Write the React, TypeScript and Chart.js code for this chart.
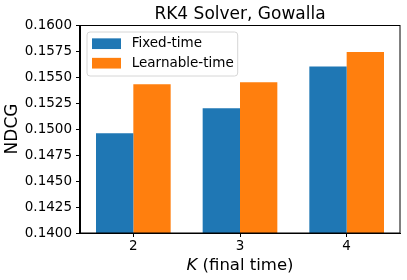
import React, { useEffect, useRef } from "react";
import { Chart, registerables } from "chart.js";

Chart.register(...registerables);

const categories = ["2", "3", "4"];
const fixedTime = [0.1496, 0.152, 0.156];
const learnableTime = [0.1543, 0.1545, 0.1574];
const seriesLabels = ["Fixed-time", "Learnable-time"];
const seriesColors = ["#1f77b4", "#ff7f0e"];
const yTicks = [0.14, 0.1425, 0.145, 0.1475, 0.15, 0.1525, 0.155, 0.1575, 0.16];
const chartTitle = "RK4 Solver, Gowalla";
const yTitle = "NDCG";
const xTitleItalic = "K";
const xTitleRest = " (final time)";

const FONT = "'DejaVu Sans', sans-serif";

const framePlugin = {
  id: "frame",
  afterDatasetsDraw(chart: any) {
    const { ctx, chartArea } = chart;
    ctx.save();
    ctx.strokeStyle = "#000";
    ctx.lineWidth = 1;
    ctx.strokeRect(
      Math.round(chartArea.left) - 0.5,
      Math.round(chartArea.top) + 0.5,
      Math.round(chartArea.right - chartArea.left) + 0.5,
      Math.round(chartArea.bottom - chartArea.top) - 0.5
    );
    ctx.restore();
  },
};

const legendPlugin = {
  id: "innerLegend",
  afterDraw(chart: any) {
    const { ctx, chartArea } = chart;
    const fontSize = 13.5;
    ctx.save();
    ctx.font = `${fontSize}px ${FONT}`;
    const left = chartArea.left + 7;
    const top = chartArea.top + 7;
    const swW = 29;
    const swH = 10.7;
    const swX = left + 5;
    const textX = left + 44.7;
    const rowH = 19.5;
    const firstRow = top + 11.7;
    const labels = chart.data.datasets.map((d: any) => d.label);
    const maxW = Math.max(...labels.map((l: string) => ctx.measureText(l).width));
    const boxW = textX + maxW + 4 - left;
    const boxH = 44;
    const r = 3;
    ctx.beginPath();
    ctx.moveTo(left + r, top);
    ctx.lineTo(left + boxW - r, top);
    ctx.arcTo(left + boxW, top, left + boxW, top + r, r);
    ctx.lineTo(left + boxW, top + boxH - r);
    ctx.arcTo(left + boxW, top + boxH, left + boxW - r, top + boxH, r);
    ctx.lineTo(left + r, top + boxH);
    ctx.arcTo(left, top + boxH, left, top + boxH - r, r);
    ctx.lineTo(left, top + r);
    ctx.arcTo(left, top, left + r, top, r);
    ctx.closePath();
    ctx.fillStyle = "rgba(255,255,255,0.8)";
    ctx.fill();
    ctx.strokeStyle = "#d6d6d6";
    ctx.lineWidth = 1;
    ctx.stroke();
    chart.data.datasets.forEach((d: any, i: number) => {
      const cy = firstRow + i * rowH;
      ctx.fillStyle = d.backgroundColor;
      ctx.fillRect(swX, cy - swH / 2, swW, swH);
      ctx.fillStyle = "#000";
      ctx.textBaseline = "middle";
      ctx.textAlign = "left";
      ctx.fillText(d.label, textX, cy);
    });
    ctx.restore();
  },
};

const xTitlePlugin = {
  id: "xTitle",
  afterDraw(chart: any) {
    const { ctx, chartArea } = chart;
    const size = 16.5;
    ctx.save();
    ctx.fillStyle = "#000";
    ctx.textBaseline = "alphabetic";
    ctx.textAlign = "left";
    ctx.font = `italic ${size}px ${FONT}`;
    const w1 = ctx.measureText(xTitleItalic).width;
    ctx.font = `${size}px ${FONT}`;
    const w2 = ctx.measureText(xTitleRest).width;
    const cx = (chartArea.left + chartArea.right) / 2;
    const x0 = cx - (w1 + w2) / 2;
    const baseline = 269.5;
    ctx.font = `italic ${size}px ${FONT}`;
    ctx.fillText(xTitleItalic, x0, baseline);
    ctx.font = `${size}px ${FONT}`;
    ctx.fillText(xTitleRest, x0 + w1, baseline);
    ctx.restore();
  },
};

export default function App() {
  const ref = useRef<HTMLCanvasElement>(null);
  useEffect(() => {
    if (!ref.current) return;
    const chart = new Chart(ref.current, {
      type: "bar",
      data: {
        labels: categories,
        datasets: [
          {
            label: seriesLabels[0],
            data: fixedTime,
            backgroundColor: seriesColors[0],
            borderWidth: 0,
            categoryPercentage: 0.7,
            barPercentage: 1.0,
          },
          {
            label: seriesLabels[1],
            data: learnableTime,
            backgroundColor: seriesColors[1],
            borderWidth: 0,
            categoryPercentage: 0.7,
            barPercentage: 1.0,
          },
        ],
      },
      options: {
        responsive: false,
        animation: false,
        devicePixelRatio: 1,
        layout: { padding: { left: 0, right: 7, top: 0, bottom: 0 } },
        plugins: {
          legend: { display: false },
          tooltip: { enabled: false },
          title: {
            display: true,
            text: chartTitle,
            fullSize: false,
            color: "#000",
            font: { family: FONT, size: 17, weight: "normal" },
            padding: { top: 4, bottom: 0.6 },
          },
        },
        scales: {
          x: {
            offset: true,
            grid: {
              offset: false,
              drawOnChartArea: false,
              drawTicks: true,
              tickLength: 4,
              color: "#000",
            },
            border: { display: true, color: "#000", width: 1 },
            ticks: {
              color: "#000",
              font: { family: FONT, size: 13.5 },
              padding: 1,
              maxRotation: 0,
            },
            afterFit(scale: any) {
              scale.height = 47;
            },
          },
          y: {
            min: 0.14,
            max: 0.16,
            grid: {
              drawOnChartArea: false,
              drawTicks: true,
              tickLength: 4,
              color: "#000",
            },
            border: { display: true, color: "#000", width: 1 },
            ticks: {
              color: "#000",
              font: { family: FONT, size: 13.5 },
              padding: 4,
              callback: (v: any) => Number(v).toFixed(4),
            },
            afterBuildTicks(scale: any) {
              scale.ticks = yTicks.map((v) => ({ value: v }));
            },
            title: {
              display: true,
              text: yTitle,
              color: "#000",
              font: { family: FONT, size: 17, weight: "normal" },
              padding: { top: 2, bottom: 0 },
            },
            afterFit(scale: any) {
              scale.width = 80;
            },
          },
        },
      },
      plugins: [framePlugin, legendPlugin, xTitlePlugin],
    } as any);
    return () => chart.destroy();
  }, []);
  return (
    <canvas
      ref={ref}
      width={407}
      height={280}
      style={{ position: "fixed", left: 0, top: 0, width: 407, height: 280 }}
    />
  );
}
